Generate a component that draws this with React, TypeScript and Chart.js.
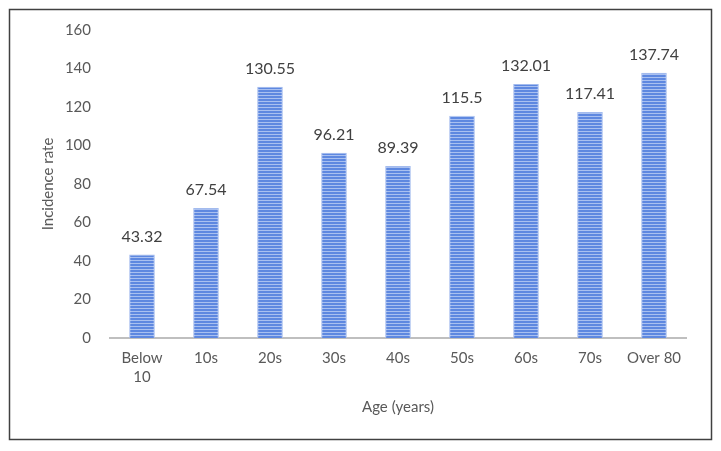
import React, { useEffect, useRef } from "react";
import { Chart, registerables } from "chart.js";

Chart.register(...registerables);

const categories: (string | string[])[] = [["Below", "10"], "10s", "20s", "30s", "40s", "50s", "60s", "70s", "Over 80"];
const incidence: number[] = [43.32, 67.54, 130.55, 96.21, 89.39, 115.5, 132.01, 117.41, 137.74];
const valueLabels: string[] = ["43.32", "67.54", "130.55", "96.21", "89.39", "115.5", "132.01", "117.41", "137.74"];
const yTicks: number[] = [0, 20, 40, 60, 80, 100, 120, 140, 160];

const FONT = "Lato, 'Open Sans', sans-serif";

function makePattern(): CanvasPattern | string {
  const c = document.createElement("canvas");
  c.width = 4;
  c.height = 3;
  const ctx = c.getContext("2d");
  if (!ctx) return "#6A90E2";
  ctx.fillStyle = "#5E88E0";
  ctx.fillRect(0, 0, 4, 2);
  ctx.fillStyle = "#A9C0F0";
  ctx.fillRect(0, 2, 4, 1);
  const p = ctx.createPattern(c, "repeat");
  return p || "#6A90E2";
}

export default function App() {
  const ref = useRef<HTMLCanvasElement | null>(null);
  useEffect(() => {
    document.body.style.margin = "0";
    const canvas = ref.current;
    if (!canvas) return;
    const pattern = makePattern();

    const framePlugin = {
      id: "frame",
      beforeDraw(chart: any) {
        const ctx = chart.ctx;
        ctx.save();
        ctx.fillStyle = "#ffffff";
        ctx.fillRect(0, 0, chart.width, chart.height);
        ctx.strokeStyle = "#404040";
        ctx.lineWidth = 1.5;
        ctx.strokeRect(9.5, 9.5, 702, 430);
        ctx.restore();
      },
    };

    const labelPlugin = {
      id: "valueLabels",
      afterDatasetsDraw(chart: any) {
        const ctx = chart.ctx;
        const meta = chart.getDatasetMeta(0);
        ctx.save();
        ctx.fillStyle = "#404040";
        ctx.font = `16px ${FONT}`;
        ctx.textAlign = "center";
        ctx.textBaseline = "middle";
        meta.data.forEach((bar: any, i: number) => {
          ctx.fillText(valueLabels[i], bar.x, bar.y - 18);
        });
        ctx.restore();
      },
    };

    const chart = new Chart(canvas, {
      type: "bar",
      data: {
        labels: categories,
        datasets: [
          {
            data: incidence,
            backgroundColor: pattern as any,
            borderColor: "#A3BBEE",
            borderWidth: 1,
            barPercentage: 0.4,
            categoryPercentage: 1,
          },
        ],
      },
      options: {
        responsive: false,
        animation: false,
        layout: { padding: { left: 30, right: 35, top: 30, bottom: 35 } },
        plugins: {
          legend: { display: false },
          tooltip: { enabled: false },
        },
        scales: {
          x: {
            grid: { display: false, drawTicks: false },
            border: { display: true, color: "#BFBFBF", width: 2 },
            ticks: {
              color: "#595959",
              font: { family: FONT, size: 15, lineHeight: 1.3 },
              padding: 10,
              maxRotation: 0,
              autoSkip: false,
            },
            title: {
              display: true,
              text: "Age (years)",
              color: "#595959",
              font: { family: FONT, size: 15 },
              padding: { top: 0, bottom: 0 },
            },
            afterFit(scale: any) {
              scale.height = 78;
            },
          },
          y: {
            min: 0,
            max: 160,
            afterBuildTicks(scale: any) {
              scale.ticks = yTicks.map((v) => ({ value: v }));
            },
            grid: { display: false, drawTicks: false },
            border: { display: false },
            ticks: {
              color: "#595959",
              font: { family: FONT, size: 15 },
              padding: 19,
            },
            title: {
              display: true,
              text: "Incidence rate",
              color: "#595959",
              font: { family: FONT, size: 15 },
              padding: { top: 9, bottom: 0 },
            },
            afterFit(scale: any) {
              scale.width = 80;
            },
          },
        },
      },
      plugins: [framePlugin, labelPlugin],
    });
    return () => chart.destroy();
  }, []);
  return (
    <div style={{ position: "absolute", left: 0, top: 0, width: 721, height: 451 }}>
      <canvas ref={ref} width={721} height={451} style={{ display: "block" }} />
    </div>
  );
}
